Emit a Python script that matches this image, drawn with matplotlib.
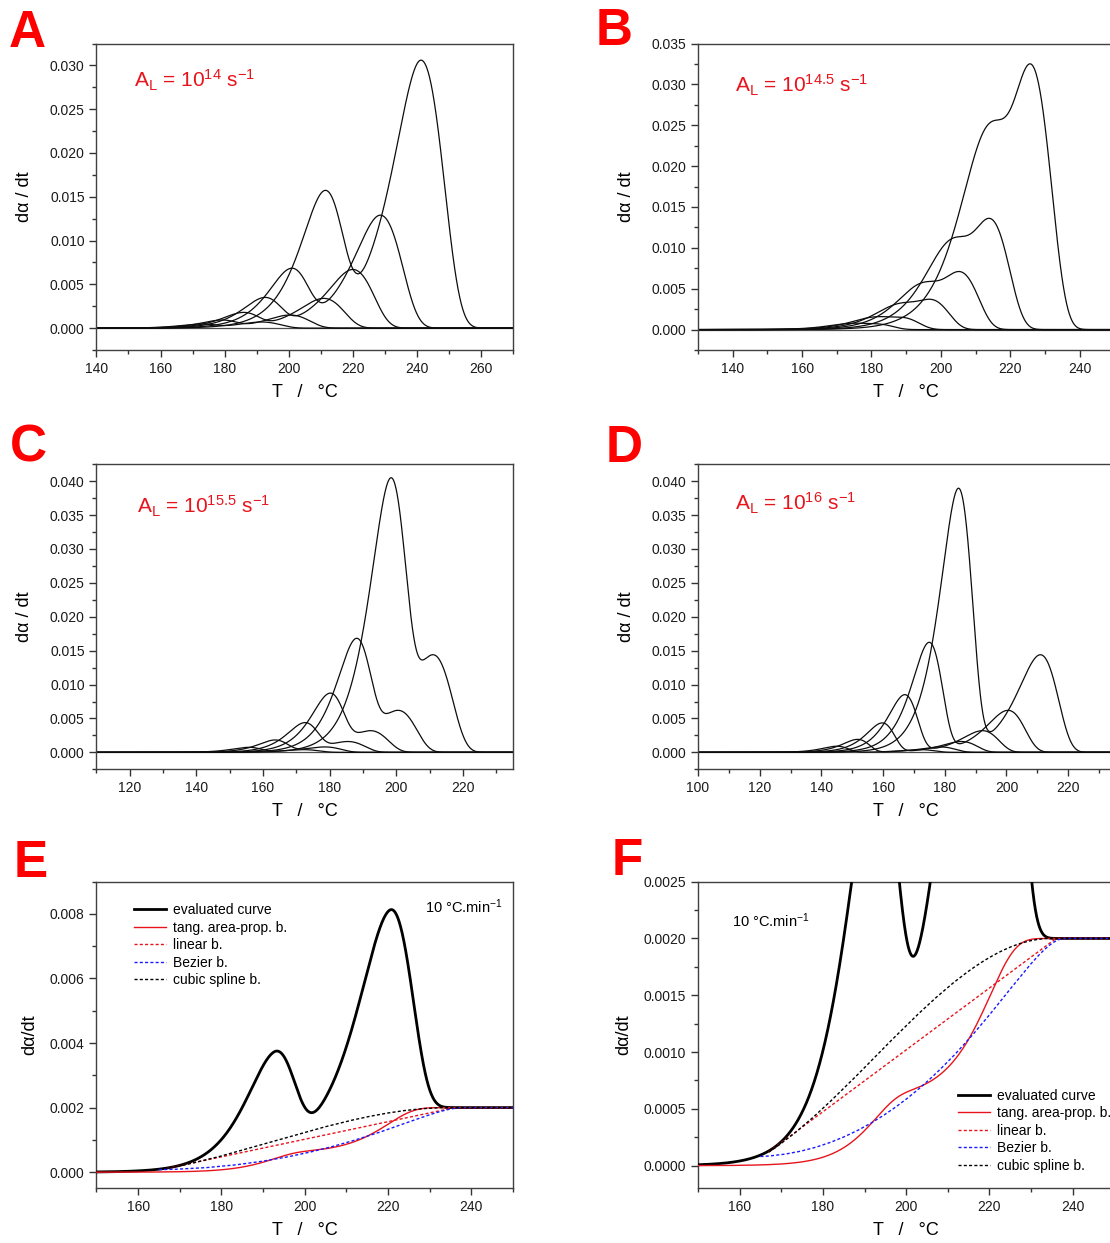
import numpy as np
import matplotlib
matplotlib.use("Agg")
import matplotlib.pyplot as plt
from matplotlib.path import Path
from matplotlib.patches import PathPatch
from matplotlib.lines import Line2D
from matplotlib.ticker import MultipleLocator, FormatStrFormatter

plt.rcParams["font.family"] = ["Liberation Sans", "DejaVu Sans"]
plt.rcParams["mathtext.fontset"] = "custom"
plt.rcParams["mathtext.rm"] = "Liberation Sans"
plt.rcParams["mathtext.it"] = "Liberation Sans:italic"
plt.rcParams["mathtext.bf"] = "Liberation Sans:bold"

# ---- reaction P (same in every A_L panel), one peak per heating rate ----
p_temp = [211.0, 200.5, 192.2, 185.4, 178.5, 172.0]
p_height = [0.0144, 0.0062, 0.0032, 0.0016, 0.0008, 0.0004]
p_width = [6.3, 6.0, 5.8, 5.6, 5.4, 5.2]

# ---- reaction L, one peak per heating rate, for each A_L ----
# (left and right half-widths of each peak)
a_temp = [241.3, 228.6, 220.0, 210.9, 200.4, 191.5]
a_height = [0.0306, 0.0129, 0.0067, 0.0034, 0.0015, 0.0007]
a_wleft = [7.3, 7.0, 6.8, 6.6, 6.3, 6.1]
a_wright = [7.8, 7.5, 7.2, 7.0, 6.7, 6.5]

b_temp = [225.7, 213.9, 205.2, 196.8, 188.3, 181.0]
b_height = [0.0325, 0.0136, 0.0071, 0.0037, 0.0015, 0.0007]
b_wleft = [6.6, 6.3, 6.1, 5.9, 5.7, 5.5]
b_wright = [6.6, 6.3, 6.1, 5.9, 5.7, 5.5]

c_temp = [198.0, 187.7, 179.8, 172.3, 163.4, 155.5]
c_height = [0.0360, 0.0150, 0.0078, 0.0040, 0.0017, 0.0007]
c_wleft = [5.1, 4.9, 4.7, 4.5, 4.3, 4.2]
c_wright = [5.1, 4.9, 4.7, 4.5, 4.3, 4.2]

d_temp = [184.4, 174.9, 167.0, 159.7, 151.7, 145.0]
d_height = [0.0384, 0.0160, 0.0084, 0.0043, 0.0019, 0.0009]
d_wleft = [5.0, 4.8, 4.6, 4.4, 4.2, 4.1]
d_wright = [5.0, 4.8, 4.6, 4.4, 4.2, 4.1]

# ---- evaluated curve (10 °C/min) and its baselines ----
e_peak_temp = [192.6, 220.4]
e_peak_height = [0.00305, 0.0066]
e_peak_wleft = [6.0, 6.6]
e_peak_wright = [5.3, 5.9]
e_step = 0.002

lin_T = [167.0, 236.0, 250.0]
lin_y = [0.00012, 0.0020, 0.0020]
bez_T = [165.0, 208.0, 228.0, 238.0]
bez_y = [0.00008, 0.00015, 0.0020, 0.0020]
spl_T = [167.0, 189.6, 212.1, 234.7]
spl_y = [0.00012, 0.00066, 0.0020, 0.0020]

RED = "#e8141c"
LETTER_RED = "#ff0000"
BLUE = "#1a1aff"
DOT = (0, (2.2, 1.6))


def kinetic_peak(T, Tp, h, wl, wr=None):
    if wr is None:
        wr = wl
    d = T - Tp
    u = np.where(d < 0, d / wl, d / wr)
    return h * np.exp(1.0 + u - np.exp(u))


def style_axes(ax, xlim, xmaj, ylim, ymaj, ymin, yfmt):
    ax.set_xlim(*xlim)
    ax.set_ylim(*ylim)
    ax.xaxis.set_major_locator(MultipleLocator(xmaj))
    ax.xaxis.set_minor_locator(MultipleLocator(xmaj / 2))
    ax.yaxis.set_major_locator(MultipleLocator(ymaj))
    ax.yaxis.set_minor_locator(MultipleLocator(ymin))
    ax.yaxis.set_major_formatter(FormatStrFormatter(yfmt))
    ax.tick_params(which="both", direction="out", top=False, right=False,
                   labelsize=10, color="0.2", labelcolor="0.1")
    ax.tick_params(which="major", length=5, width=1.0)
    ax.tick_params(which="minor", length=3, width=1.0)
    for s in ax.spines.values():
        s.set_linewidth(1.0)
        s.set_color("0.25")
    ax.set_xlabel("T   /   \u00b0C", fontsize=13, labelpad=6)


fig = plt.figure(figsize=(11.1, 12.43), dpi=100)

rects = {
    "A": [0.0869, 0.7184, 0.3752, 0.2466],
    "B": [0.6288, 0.7184, 0.3752, 0.2466],
    "C": [0.0869, 0.3811, 0.3752, 0.2454],
    "D": [0.6288, 0.3811, 0.3752, 0.2454],
    "E": [0.0869, 0.0440, 0.3752, 0.2467],
    "F": [0.6288, 0.0440, 0.3752, 0.2467],
}

family_panels = [
    ("A", a_temp, a_height, a_wleft, a_wright, (140, 270), (-0.0025, 0.0325), "14", (0.090, 0.855)),
    ("B", b_temp, b_height, b_wleft, b_wright, (130, 250), (-0.0025, 0.035), "14.5", (0.090, 0.840)),
    ("C", c_temp, c_height, c_wleft, c_wright, (110, 235), (-0.0025, 0.0425), "15.5", (0.097, 0.840)),
    ("D", d_temp, d_height, d_wleft, d_wright, (100, 235), (-0.0025, 0.0425), "16", (0.090, 0.850)),
]

for name, lt, lh, wl, wr, xlim, ylim, expo, tpos in family_panels:
    ax = fig.add_axes(rects[name])
    T = np.linspace(xlim[0], xlim[1], 2000)
    ax.axhline(0.0, color="0.3", lw=0.9, zorder=1)
    for i in range(len(lt)):
        y = (kinetic_peak(T, lt[i], lh[i], wl[i], wr[i])
             + kinetic_peak(T, p_temp[i], p_height[i], p_width[i]))
        ax.plot(T, y, color="0.05", lw=0.9, zorder=2)
    style_axes(ax, xlim, 20, ylim, 0.005, 0.0025, "%.3f")
    ax.set_ylabel("d\u03b1 / dt", fontsize=13, labelpad=12)
    ax.text(tpos[0], tpos[1],
            r"A$_{\mathregular{L}}$ = 10$^{\mathregular{%s}}$ s$^{\mathregular{-1}}$" % expo,
            transform=ax.transAxes, color=RED, fontsize=15, va="baseline", ha="left")

# evaluated curve with the tangential area-proportional baseline
TE = np.linspace(150, 250, 3000)
signal = sum(kinetic_peak(TE, e_peak_temp[i], e_peak_height[i], e_peak_wleft[i], e_peak_wright[i])
             for i in range(len(e_peak_temp)))
cum = np.concatenate([[0.0], np.cumsum(0.5 * (signal[1:] + signal[:-1]) * np.diff(TE))])
tang = e_step * cum / cum[-1]
evaluated = signal + tang


def bezier_patch(ax, xs, ys, color, tail_to):
    verts = list(zip(xs, ys)) + [(tail_to, ys[-1])]
    codes = [Path.MOVETO, Path.CURVE4, Path.CURVE4, Path.CURVE4, Path.LINETO]
    patch = PathPatch(Path(verts, codes), fill=False, edgecolor=color, lw=1.0,
                      linestyle=DOT, zorder=5)
    ax.add_patch(patch)


for name, ylim, ymaj, ymin, yfmt in [("E", (-0.0005, 0.009), 0.002, 0.001, "%.3f"),
                                      ("F", (-0.0002, 0.0025), 0.0005, 0.00025, "%.4f")]:
    ax = fig.add_axes(rects[name])
    ax.plot(TE, evaluated, color="k", lw=2.0, zorder=3)
    ax.plot(TE, tang, color=RED, lw=1.0, zorder=4)
    ax.plot(lin_T, lin_y, color=RED, lw=1.0, linestyle=DOT, zorder=5)
    bezier_patch(ax, bez_T, bez_y, BLUE, 250.0)
    bezier_patch(ax, spl_T, spl_y, "k", 250.0)
    style_axes(ax, (150, 250), 20, ylim, ymaj, ymin, yfmt)
    ax.set_ylabel("d\u03b1/dt", fontsize=13, labelpad=8)

    handles = [Line2D([], [], color="k", lw=2.0),
               Line2D([], [], color=RED, lw=1.0),
               Line2D([], [], color=RED, lw=1.0, linestyle=DOT),
               Line2D([], [], color=BLUE, lw=1.0, linestyle=DOT),
               Line2D([], [], color="k", lw=1.0, linestyle=DOT)]
    labels = ["evaluated curve", "tang. area-prop. b.", "linear b.", "Bezier b.", "cubic spline b."]
    if name == "E":
        ax.legend(handles, labels, loc="upper left", bbox_to_anchor=(0.09, 0.93),
                  frameon=False, fontsize=10, handlelength=2.3, handletextpad=0.5,
                  labelspacing=0.25, borderpad=0, borderaxespad=0)
        ax.text(0.789, 0.898, r"10 °C.min$^{\mathregular{-1}}$", transform=ax.transAxes,
                fontsize=10.5, va="baseline", ha="left")
    else:
        ax.legend(handles, labels, loc="upper left", bbox_to_anchor=(0.624, 0.325),
                  frameon=False, fontsize=10, handlelength=2.3, handletextpad=0.5,
                  labelspacing=0.25, borderpad=0, borderaxespad=0)
        ax.text(0.082, 0.852, r"10 °C.min$^{\mathregular{-1}}$", transform=ax.transAxes,
                fontsize=10.5, va="baseline", ha="left")

# panel letters
letters = [("A", 9, 47), ("B", 596, 45), ("C", 10, 462), ("D", 606, 462), ("E", 14, 877), ("F", 612, 875)]
for lab, px, py in letters:
    fig.text(px / 1110, 1 - py / 1243, lab, color=LETTER_RED, fontsize=37,
             fontweight="bold", va="baseline", ha="left")

fig.savefig("out.png", dpi=100)
